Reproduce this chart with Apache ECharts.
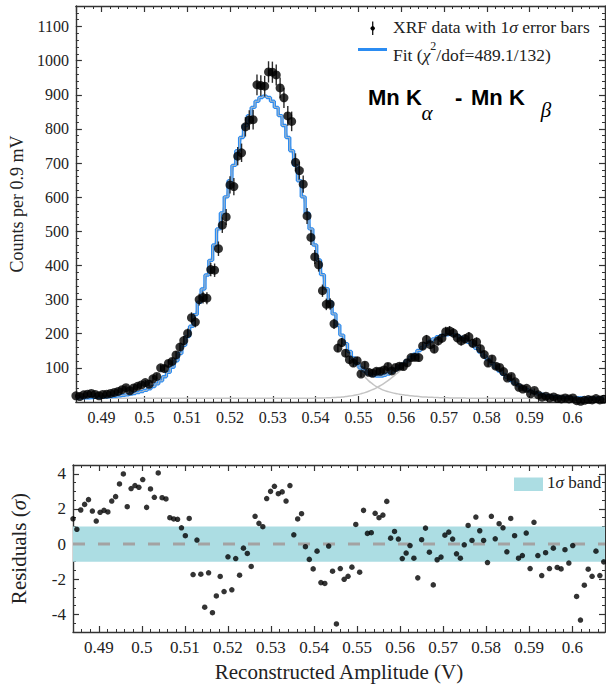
<!DOCTYPE html>
<html>
<head>
<meta charset="utf-8">
<script src="https://cdn.jsdelivr.net/npm/echarts@6/dist/echarts.min.js"></script>
<style>
  html, body { margin: 0; padding: 0; background: #ffffff; }
  #chart { width: 606px; height: 687px; }
</style>
</head>
<body>
<div id="chart"></div>
<script>
// Histogram binning of the reconstructed pulse amplitude (V)
const binStart = 0.4840;
const binWidth = 0.0009;

// Counts per 0.9 mV bin
const counts = [
  18, 16, 21, 23, 25, 22, 18, 22, 23, 25,
  28, 31, 36, 42, 33, 41, 46, 50, 57, 52,
  68, 75, 100, 98, 113, 119, 138, 161, 180, 201,
  247, 234, 300, 306, 304, 388, 386, 449, 518, 542,
  636, 631, 720, 730, 806, 826, 827, 929, 927, 925,
  967, 966, 958, 920, 891, 838, 822, 702, 678, 638,
  545, 482, 425, 402, 326, 286, 287, 229, 158, 174,
  143, 124, 114, 121, 82, 108, 87, 84, 90, 90,
  94, 104, 91, 101, 105, 104, 115, 130, 131, 130,
  164, 183, 168, 155, 179, 187, 206, 208, 202, 188,
  179, 185, 191, 172, 176, 156, 139, 114, 126, 105,
  101, 89, 70, 75, 59, 43, 38, 40, 24, 34,
  21, 14, 17, 12, 15, 10, 9, 12, 9, 12,
  4, 2, 5, 7, 6, 10, 6, 8
];

// Fitted model per bin (Mn Kα + Mn Kβ + flat background)
const fitTotal = [
  11.8, 12, 12.2, 12.5, 13, 13.5, 14, 14.5, 15, 16,
  17, 18, 19.5, 21, 23, 25, 27.5, 30.5, 34, 39,
  45, 53, 62, 74, 87, 102, 121, 142, 166, 192,
  222, 256, 292, 331, 372, 415, 460, 507, 554, 601,
  648, 693, 736, 775, 810, 839, 863, 881, 892, 896,
  892, 881, 863, 839, 810, 775, 736, 693, 648, 601,
  554, 507, 460, 416, 373, 332, 293, 258, 225, 196,
  171, 148, 129, 112, 100, 91, 83, 78, 76, 76,
  78, 82, 88, 95, 103, 111, 121, 131, 140, 151,
  160, 170, 178, 185, 191, 195, 197, 198, 197, 194,
  189, 183, 175, 167, 157, 146, 135, 124, 113, 102,
  91, 81, 72, 63, 55, 48, 42, 36, 32, 28,
  24, 22, 19, 17.5, 16, 14.8, 13.9, 13.2, 12.6, 12.2,
  11.9, 11.6, 11.4, 11.3, 11.2, 11.1, 11.1, 11
];

// Mn Kα component (with background)
const compKalpha = [
  11.8, 12, 12.2, 12.5, 13, 13.5, 14, 14.5, 15, 16,
  17, 18, 19.5, 21, 23, 25, 27.5, 30.5, 34, 39,
  45, 53, 62, 74, 87, 102, 121, 142, 166, 192,
  222, 256, 292, 331, 372, 415, 460, 507, 554, 601,
  648, 693, 736, 775, 810, 839, 863, 881, 892, 896,
  892, 881, 863, 839, 810, 775, 736, 693, 648, 601,
  554, 507, 460, 415, 372, 331, 292, 256, 222, 192,
  166, 142, 121, 102, 87, 74, 62, 53, 45, 39,
  34, 30.5, 27.5, 25, 23, 21, 19.5, 18, 17, 16,
  15, 14.5, 14, 13.5, 13, 12.5, 12.2, 12, 11.8, 11.6,
  11.5, 11.4, 11.3, 11.3, 11.2, 11.2, 11.2, 11.1, 11.1, 11.1,
  11.1, 11.1, 11, 11, 11, 11, 11, 11, 11, 11,
  11, 11, 11, 11, 11, 11, 11, 11, 11, 11,
  11, 11, 11, 11, 11, 11, 11, 11
];

// Mn Kβ component (with background)
const compKbeta = [
  11, 11, 11, 11, 11, 11, 11, 11, 11, 11,
  11, 11, 11, 11, 11, 11, 11, 11, 11, 11,
  11, 11, 11, 11, 11, 11, 11, 11, 11, 11,
  11, 11, 11, 11, 11, 11, 11, 11, 11, 11,
  11, 11, 11, 11, 11, 11, 11, 11, 11, 11,
  11, 11, 11, 11, 11, 11, 11, 11, 11, 11.1,
  11.2, 11.3, 11.4, 11.6, 11.8, 12.1, 12.5, 13.1, 13.8, 14.7,
  15.9, 17.3, 19.2, 21.4, 24.2, 27.5, 31.5, 36.2, 41.6, 47.8,
  54.8, 62.6, 71.3, 80.7, 90.6, 101.3, 112.3, 123.8, 134.4, 145.6,
  156.2, 166.2, 175.1, 182.7, 188.8, 193.3, 196, 197, 196, 193.3,
  188.8, 182.7, 175.1, 166.2, 156.2, 145.6, 134.4, 123.8, 112.3, 101.3,
  90.6, 80.7, 71.3, 62.6, 54.8, 47.8, 41.6, 36.2, 31.5, 27.5,
  24.2, 21.4, 19.2, 17.3, 15.9, 14.7, 13.8, 13.1, 12.5, 12.1,
  11.8, 11.6, 11.4, 11.3, 11.2, 11.1, 11.1, 11
];

// Normalised residuals (sigma) per bin
const residuals = [
  1.44, 0.84, 1.94, 2.26, 2.53, 1.88, 1.31, 1.81, 1.92, 1.83,
  2.45, 2.70, 3.42, 3.99, 2.13, 3.16, 3.33, 3.23, 3.67, 2.09,
  3.14, 2.66, 4.05, 2.64, 2.57, 1.50, 1.43, 1.41, 0.93, 0.48,
  1.46, -1.73, 0.23, -1.71, -3.59, -1.63, -3.90, -2.95, -1.84, -2.70,
  -0.72, -2.60, -0.82, -1.77, -0.23, -0.53, -1.27, 1.58, 1.18, 0.99,
  2.59, 3.00, 3.29, 2.87, 2.97, 2.45, 3.33, 0.53, 1.43, 1.73,
  -0.15, -0.87, -1.41, -0.40, -2.19, -2.24, -0.11, -1.54, -4.54, -1.39,
  -2.00, -1.83, -1.31, 1.12, -1.60, 1.92, 0.61, 0.65, 1.75, 1.50,
  1.65, 2.43, 0.34, 0.72, 0.29, -0.82, -0.51, -0.08, -0.80, -1.92,
  0.25, 0.91, -0.46, -2.32, -0.89, -0.74, 0.51, 0.68, 0.29, -0.55,
  -0.80, -0.04, 1.06, 0.21, 1.54, 0.76, 0.21, -1.05, 1.58, 0.30,
  1.16, 0.93, -0.44, 1.46, 0.48, -0.80, -0.65, 0.63, -1.39, 1.24,
  -0.65, -1.79, -0.49, -1.39, -0.23, -1.33, -1.41, -0.32, -1.08, -0.08,
  -2.98, -4.32, -2.34, -1.43, -1.83, -0.40, -1.79, -1.01
];

// Axis ranges
const X_MIN = 0.484, X_MAX = 0.6076;
const COUNT_MIN = 0, COUNT_MAX = 1160;
const RES_MIN = -5, RES_MAX = 4.5;
const BAND = [-1, 1];

const INK = '#333333';
const TEXT = '#222222';
const SERIF = '"Liberation Serif", "Times New Roman", serif';
const SANS = '"Liberation Sans", Arial, sans-serif';
const FIT_BLUE = '#2b8cf2';
const BAND_COLOR = '#acdde3';

const centers = counts.map((_, i) => +(binStart + i * binWidth).toFixed(5));
const pairs = arr => arr.map((v, i) => [centers[i], v]);

const trimNum = v => String(+(+v).toFixed(4));

function xAxesFor(grid, labelSize, name, nameSize) {
  const base = { gridIndex: grid, type: 'value', min: X_MIN, max: X_MAX, splitLine: { show: false } };
  const line = { show: true, onZero: false, lineStyle: { color: INK, width: 1.4 } };
  const noLine = { show: false, onZero: false };
  const minorTick = { inside: true, length: 3, lineStyle: { color: INK, width: 1 } };
  const majorTick = { inside: true, length: 6, lineStyle: { color: INK, width: 1.2 } };
  const major = {
    ...base, position: 'bottom', splitNumber: 12, axisLine: noLine, axisTick: majorTick,
    axisLabel: { show: true, showMinLabel: false, showMaxLabel: false, margin: 7, formatter: trimNum,
      fontFamily: SERIF, fontSize: labelSize, color: TEXT }
  };
  if (name) {
    Object.assign(major, {
      name: name, nameLocation: 'middle', nameGap: 29,
      nameTextStyle: { fontFamily: SERIF, fontSize: nameSize, color: TEXT }
    });
  }
  return [
    { ...base, position: 'bottom', interval: 0.002, axisLine: line, axisTick: minorTick, axisLabel: { show: false } },
    major,
    { ...base, position: 'top', interval: 0.002, axisLine: line, axisTick: minorTick, axisLabel: { show: false } },
    { ...base, position: 'top', splitNumber: 12, axisLine: noLine, axisTick: majorTick, axisLabel: { show: false } }
  ];
}

function yAxesFor(grid, min, max, minorStep, majorSpec, labelSize, labelFmt, nameSpec) {
  const base = { gridIndex: grid, type: 'value', min: min, max: max, splitLine: { show: false } };
  const line = { show: true, onZero: false, lineStyle: { color: INK, width: 1.4 } };
  const noLine = { show: false, onZero: false };
  const minorTick = { inside: true, length: 3, lineStyle: { color: INK, width: 1 } };
  const majorTick = { inside: true, length: 6, lineStyle: { color: INK, width: 1.2 } };
  const major = {
    ...base, ...majorSpec, position: 'left', axisLine: noLine, axisTick: majorTick,
    axisLabel: { show: true, showMinLabel: false, showMaxLabel: false, margin: 7, formatter: labelFmt,
      fontFamily: SERIF, fontSize: labelSize, color: TEXT },
    ...nameSpec
  };
  return [
    { ...base, position: 'left', interval: minorStep, axisLine: line, axisTick: minorTick, axisLabel: { show: false } },
    major,
    { ...base, position: 'right', interval: minorStep, axisLine: line, axisTick: minorTick, axisLabel: { show: false } },
    { ...base, ...majorSpec, position: 'right', axisLine: noLine, axisTick: majorTick, axisLabel: { show: false } }
  ];
}

const chart = echarts.init(document.getElementById('chart'), null, { renderer: 'svg', width: 606, height: 687 });

const option = {
  animation: false,
  backgroundColor: '#ffffff',
  grid: [
    { left: 70, top: 6, width: 535, height: 396 },
    { left: 70, top: 465, width: 535, height: 167 }
  ],
  xAxis: [
    ...xAxesFor(0, 16, null, 0),
    ...xAxesFor(1, 17, 'Reconstructed Amplitude (V)', 21)
  ],
  yAxis: [
    ...yAxesFor(0, COUNT_MIN, COUNT_MAX, 20, { interval: 100 }, 16,
      v => (v === 0 ? '' : String(v)),
      { name: 'Counts per 0.9 mV', nameLocation: 'middle', nameGap: 45,
        nameTextStyle: { fontFamily: SERIF, fontSize: 18, color: TEXT } }),
    ...yAxesFor(1, RES_MIN, RES_MAX, 0.5, { splitNumber: 5 }, 17,
      v => String(v),
      { name: '{n|Residuals (}{i|σ}{n|)}', nameLocation: 'middle', nameGap: 44,
        nameTextStyle: { rich: {
          n: { fontFamily: SERIF, fontSize: 21, color: TEXT },
          i: { fontFamily: SERIF, fontSize: 21, fontStyle: 'italic', color: TEXT }
        } } })
  ],
  series: [
    {
      name: 'Mn Kα component', type: 'line', xAxisIndex: 0, yAxisIndex: 0,
      data: pairs(compKalpha), smooth: true, symbol: 'none', z: 1,
      lineStyle: { color: '#c4c4c4', width: 1.5 }, silent: true
    },
    {
      name: 'Mn Kβ component', type: 'line', xAxisIndex: 0, yAxisIndex: 0,
      data: pairs(compKbeta), smooth: true, symbol: 'none', z: 1,
      lineStyle: { color: '#c4c4c4', width: 1.5 }, silent: true
    },
    {
      name: 'Fit', type: 'line', xAxisIndex: 0, yAxisIndex: 0,
      data: pairs(fitTotal), step: 'middle', symbol: 'none', z: 2,
      lineStyle: { color: FIT_BLUE, width: 3.4 }, silent: true
    },
    {
      name: 'Fit core', type: 'line', xAxisIndex: 0, yAxisIndex: 0,
      data: pairs(fitTotal), step: 'middle', symbol: 'none', z: 3,
      lineStyle: { color: '#c2c2c2', width: 0.9 }, silent: true
    },
    {
      name: 'Error bars', type: 'custom', xAxisIndex: 0, yAxisIndex: 0, z: 4,
      data: counts.map((v, i) => [centers[i], v, Math.sqrt(v)]),
      encode: { x: 0, y: 1 },
      renderItem: (params, api) => {
        const x = api.value(0), y = api.value(1), e = api.value(2);
        const lo = api.coord([x, y - e]);
        const hi = api.coord([x, y + e]);
        return {
          type: 'line',
          shape: { x1: lo[0], y1: lo[1], x2: hi[0], y2: hi[1] },
          style: { stroke: '#2a2a2a', lineWidth: 1.4 }
        };
      },
      silent: true
    },
    {
      name: 'XRF data', type: 'scatter', xAxisIndex: 0, yAxisIndex: 0, z: 5,
      data: pairs(counts), symbol: 'circle', symbolSize: 9,
      itemStyle: { color: '#000000' }, silent: true
    },
    {
      name: '1σ band', type: 'custom', xAxisIndex: 4, yAxisIndex: 4, z: 1,
      data: [[X_MIN, BAND[0], X_MAX, BAND[1]]],
      encode: { x: [0, 2], y: [1, 3] },
      renderItem: (params, api) => {
        const a = api.coord([api.value(0), api.value(3)]);
        const b = api.coord([api.value(2), api.value(1)]);
        return {
          type: 'rect',
          shape: { x: a[0], y: a[1], width: b[0] - a[0], height: b[1] - a[1] },
          style: { fill: BAND_COLOR }
        };
      },
      silent: true
    },
    {
      name: 'Zero', type: 'custom', xAxisIndex: 4, yAxisIndex: 4, z: 2,
      data: [[X_MIN, 0, X_MAX, 0]],
      encode: { x: [0, 2], y: [1, 3] },
      renderItem: (params, api) => {
        const a = api.coord([api.value(0), api.value(1)]);
        const b = api.coord([api.value(2), api.value(3)]);
        return {
          type: 'line',
          shape: { x1: a[0], y1: a[1], x2: b[0], y2: b[1] },
          style: { stroke: '#a3a3a3', lineWidth: 3, lineDash: [12, 13] }
        };
      },
      silent: true
    },
    {
      name: 'Residuals', type: 'scatter', xAxisIndex: 4, yAxisIndex: 4, z: 5,
      data: pairs(residuals), symbol: 'circle', symbolSize: 5.5,
      itemStyle: { color: '#000000' }, silent: true
    }
  ],
  graphic: [
    // legend: data marker with error bar
    { type: 'line', shape: { x1: 372.7, y1: 21.5, x2: 372.7, y2: 35 }, style: { stroke: '#111', lineWidth: 1.3 } },
    { type: 'circle', shape: { cx: 372.7, cy: 28.3, r: 2.2 }, style: { fill: '#000' } },
    {
      type: 'text', left: 393, top: 18,
      style: {
        text: '{n|XRF data with 1}{i|σ}{n| error bars}',
        rich: {
          n: { fontFamily: SERIF, fontSize: 17.5, fill: TEXT, lineHeight: 20 },
          i: { fontFamily: SERIF, fontSize: 17.5, fontStyle: 'italic', fill: TEXT, lineHeight: 20 }
        }
      }
    },
    // legend: fit line
    { type: 'line', shape: { x1: 358, y1: 49.5, x2: 387, y2: 49.5 }, style: { stroke: FIT_BLUE, lineWidth: 3 } },
    {
      type: 'text', left: 393, top: 40,
      style: {
        text: '{n|Fit (}{i|χ}{s|2}{n|/dof=489.1/132)}',
        rich: {
          n: { fontFamily: SERIF, fontSize: 17.5, fill: TEXT, lineHeight: 24, verticalAlign: 'bottom' },
          i: { fontFamily: SERIF, fontSize: 17.5, fontStyle: 'italic', fill: TEXT, lineHeight: 24, verticalAlign: 'bottom' },
          s: { fontFamily: SERIF, fontSize: 12, fill: TEXT, lineHeight: 13, verticalAlign: 'top' }
        }
      }
    },
    // title: Mn Kα - Mn Kβ
    { type: 'text', x: 368, y: 97, style: { text: 'Mn K', font: 'bold 22px ' + SANS, fill: '#000', textVerticalAlign: 'middle' } },
    { type: 'text', x: 427, y: 113, style: { text: 'α', font: 'italic 21px ' + SERIF, fill: '#000', textAlign: 'center', textVerticalAlign: 'middle' } },
    { type: 'text', x: 455, y: 97, style: { text: '-', font: 'bold 22px ' + SANS, fill: '#000', textVerticalAlign: 'middle' } },
    { type: 'text', x: 471, y: 97, style: { text: 'Mn K', font: 'bold 22px ' + SANS, fill: '#000', textVerticalAlign: 'middle' } },
    { type: 'text', x: 546, y: 110, style: { text: 'β', font: 'italic 21px ' + SERIF, fill: '#000', textAlign: 'center', textVerticalAlign: 'middle' } },
    // residual legend
    { type: 'rect', shape: { x: 514, y: 477.5, width: 29, height: 13.5 }, style: { fill: BAND_COLOR } },
    {
      type: 'text', left: 547, top: 474,
      style: {
        text: '{n|1}{i|σ}{n| band}',
        rich: {
          n: { fontFamily: SERIF, fontSize: 17, fill: TEXT, lineHeight: 20 },
          i: { fontFamily: SERIF, fontSize: 17, fontStyle: 'italic', fill: TEXT, lineHeight: 20 }
        }
      }
    }
  ]
};

chart.setOption(option);
</script>
</body>
</html>
